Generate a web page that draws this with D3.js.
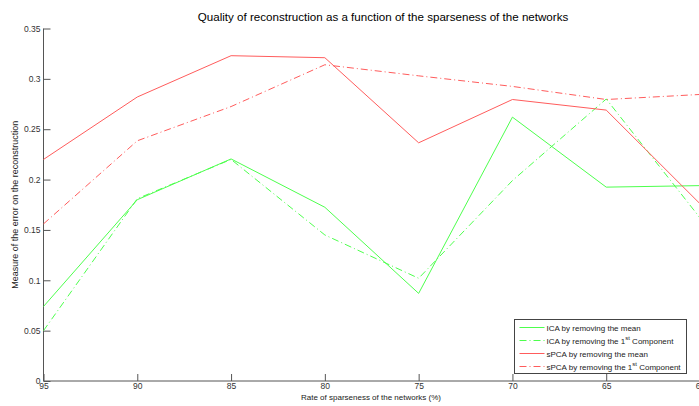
<!DOCTYPE html>
<html>
<head>
<meta charset="utf-8">
<script src="https://cdn.jsdelivr.net/npm/d3@7"></script>
<style>
    body { margin: 0; background: #fff; overflow: hidden; }
    svg { display: block; font-family: "Liberation Sans", Arial, sans-serif; }
</style>
</head>
<body>
<div id="chart"></div>
<script>
const sparseness = [95, 90, 85, 80, 75, 70, 65, 60];
const icaMean = [0.074, 0.180, 0.2205, 0.1725, 0.087, 0.262, 0.1925, 0.194];
const icaFirst = [0.050, 0.181, 0.220, 0.145, 0.102, 0.199, 0.280, 0.162];
const spcaMean = [0.220, 0.282, 0.323, 0.321, 0.2365, 0.2795, 0.269, 0.176];
const spcaFirst = [0.156, 0.2385, 0.2725, 0.314, 0.303, 0.2925, 0.2795, 0.2845];
const yTicks = [0, 0.05, 0.1, 0.15, 0.2, 0.25, 0.3, 0.35];

const seriesList = [
    {name: "ICA by removing the mean", sup: null, values: icaMean, color: "#4dff4d", dash: null},
    {name: "ICA by removing the 1", sup: "st", tail: " Component", values: icaFirst, color: "#4dff4d", dash: "7,3,1,3"},
    {name: "sPCA by removing the mean", sup: null, values: spcaMean, color: "#ff5c5c", dash: null},
    {name: "sPCA by removing the 1", sup: "st", tail: " Component", values: spcaFirst, color: "#ff5c5c", dash: "7,3,1,3"}
];

const width = 699, height = 406;
const margin = {left: 43.5, right: -1, top: 28.5, bottom: 25};

const svg = d3.select("#chart").append("svg")
    .attr("width", width)
    .attr("height", height);

const x = d3.scaleLinear()
    .domain([95, 60])
    .range([margin.left, width - margin.right]);

const y = d3.scaleLinear()
    .domain([0, 0.35])
    .range([height - margin.bottom, margin.top]);

const axisColor = "#555";

// x axis, ticks pointing inward
const xAxis = svg.append("g")
    .attr("transform", `translate(0,${y(0)})`)
    .call(d3.axisTop(x).tickValues(sparseness).tickSize(7).tickFormat(d3.format("d")));
xAxis.select(".domain").attr("stroke", axisColor).attr("d", `M${x(95)},0H${x(60)}`);
xAxis.selectAll(".tick line").attr("stroke", axisColor);
xAxis.selectAll(".tick text")
    .attr("y", 7.5)
    .attr("dy", 0)
    .attr("fill", "#333")
    .style("font-size", "8.5px");

// y axis
const yAxis = svg.append("g")
    .attr("transform", `translate(${x(95)},0)`)
    .call(d3.axisRight(y).tickValues(yTicks).tickSize(7).tickFormat(d => d3.format("")(+d.toFixed(2))));
yAxis.select(".domain").attr("stroke", axisColor).attr("d", `M0,${y(0)}V${y(0.35)}`);
yAxis.selectAll(".tick line").attr("stroke", axisColor);
yAxis.selectAll(".tick text")
    .attr("x", -3)
    .attr("text-anchor", "end")
    .attr("fill", "#333")
    .style("font-size", "8.5px");

// lines
const line = d3.line()
    .x((d, i) => x(sparseness[i]))
    .y(d => y(d));

seriesList.forEach(s => {
    svg.append("path")
        .datum(s.values)
        .attr("fill", "none")
        .attr("stroke", s.color)
        .attr("stroke-width", 1)
        .attr("stroke-dasharray", s.dash)
        .attr("d", line);
});

// title and labels
svg.append("text")
    .attr("x", 383)
    .attr("y", 21)
    .attr("text-anchor", "middle")
    .style("font-size", "11.6px")
    .attr("fill", "#000")
    .text("Quality of reconstruction as a function of the sparseness of the networks");

svg.append("text")
    .attr("x", 371)
    .attr("y", 400)
    .attr("text-anchor", "middle")
    .style("font-size", "8px")
    .attr("fill", "#222")
    .text("Rate of sparseness of the networks (%)");

svg.append("text")
    .attr("transform", `translate(18,${(y(0) + y(0.35)) / 2}) rotate(-90)`)
    .attr("text-anchor", "middle")
    .style("font-size", "9px")
    .attr("fill", "#222")
    .text("Measure of the error on the reconstruction");

// legend
const legend = svg.append("g").attr("transform", "translate(514.5,319.5)");
legend.append("rect")
    .attr("width", 172)
    .attr("height", 54)
    .attr("fill", "#fff")
    .attr("stroke", "#444");

seriesList.forEach((s, i) => {
    const ly = 8 + i * 13;
    legend.append("line")
        .attr("x1", 5).attr("x2", 30)
        .attr("y1", ly).attr("y2", ly)
        .attr("stroke", s.color)
        .attr("stroke-dasharray", s.dash);
    const t = legend.append("text")
        .attr("x", 32)
        .attr("y", ly + 3)
        .style("font-size", "8px")
        .attr("fill", "#222");
    t.append("tspan").text(s.name);
    if (s.sup) {
        t.append("tspan").attr("dy", -4).style("font-size", "6px").text(s.sup);
        t.append("tspan").attr("dy", 4).text(s.tail);
    }
});
</script>
</body>
</html>
